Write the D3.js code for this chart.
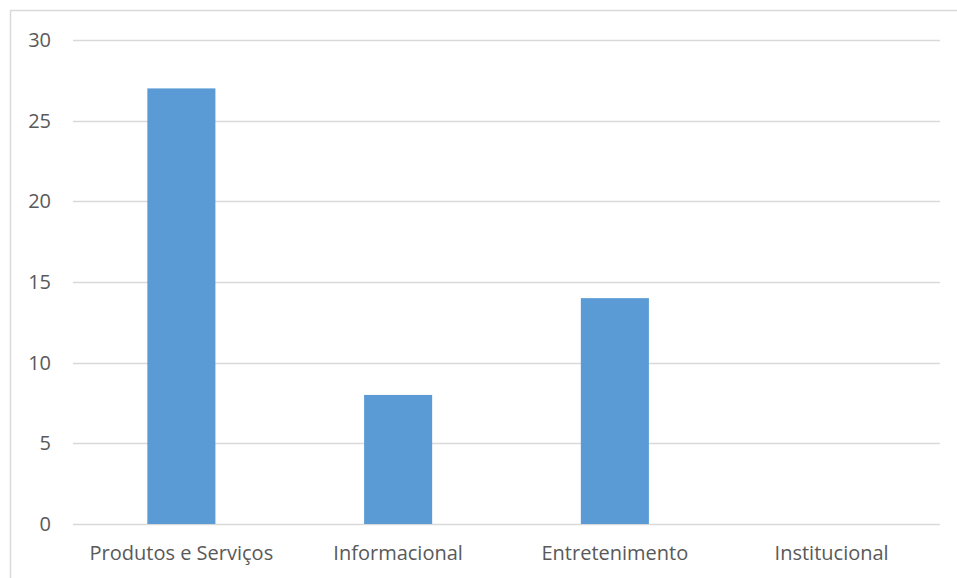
<!DOCTYPE html>
<html>
<head>
<meta charset="utf-8">
<script src="https://cdn.jsdelivr.net/npm/d3@7"></script>
<style>
  body { margin: 0; background: #fff; }
  text { font-family: "Open Sans", sans-serif; fill: #595959; }
</style>
</head>
<body>
<div id="chart"></div>
<script>
const categories = ["Produtos e Serviços", "Informacional", "Entretenimento", "Institucional"];
const values = [27, 8, 14, 0];
const yTicks = [0, 5, 10, 15, 20, 25, 30];

const width = 957;
const height = 578;
const margin = {"top": 40, "right": 17, "bottom": 54, "left": 73};

const svg = d3.select("#chart")
  .append("svg")
  .attr("width", width)
  .attr("height", height);

// outer chart border (runs off the right and bottom edges)
svg.append("rect")
  .attr("x", 10.5)
  .attr("y", 10.5)
  .attr("width", width + 20)
  .attr("height", height + 20)
  .attr("fill", "none")
  .attr("stroke", "#D9D9D9")
  .attr("stroke-width", 1.5);

const g = svg.append("g")
  .attr("transform", "translate(" + margin.left + "," + margin.top + ")");

const plotW = width - margin.left - margin.right;
const plotH = height - margin.top - margin.bottom;

const x = d3.scaleBand()
  .domain(categories)
  .range([0, plotW])
  .paddingInner(0.686)
  .paddingOuter(0.343);

const y = d3.scaleLinear()
  .domain([0, 30])
  .range([plotH, 0]);

// gridlines
g.selectAll(".grid")
  .data(yTicks)
  .enter()
  .append("line")
  .attr("x1", 0)
  .attr("x2", plotW)
  .attr("y1", d => Math.round(y(d)) + 0.5)
  .attr("y2", d => Math.round(y(d)) + 0.5)
  .attr("stroke", "#D9D9D9")
  .attr("stroke-width", 1.5);

// y labels
g.selectAll(".ylab")
  .data(yTicks)
  .enter()
  .append("text")
  .attr("x", -22)
  .attr("y", d => y(d) + 7)
  .attr("text-anchor", "end")
  .style("font-size", "20px")
  .text(d => d);

// bars
g.selectAll(".bar")
  .data(values)
  .enter()
  .append("rect")
  .attr("x", (d, i) => x(categories[i]))
  .attr("y", d => y(d))
  .attr("width", x.bandwidth())
  .attr("height", d => plotH - y(d))
  .attr("fill", "#5B9BD5");

// category labels
g.selectAll(".xlab")
  .data(categories)
  .enter()
  .append("text")
  .attr("x", d => x(d) + x.bandwidth() / 2)
  .attr("y", plotH + 36)
  .attr("text-anchor", "middle")
  .style("font-size", "20px")
  .text(d => d);
</script>
</body>
</html>
